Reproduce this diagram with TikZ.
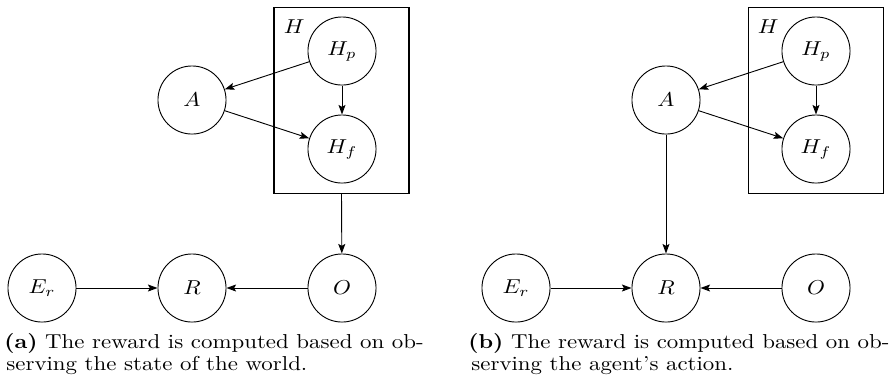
\documentclass[tikz,border=0pt]{standalone}
\usepackage{graphicx}
\usetikzlibrary{arrows.meta}
\newcommand{\nodetxt}[1]{\scalebox{1.24}[1.1]{#1}}
\newcommand{\captxt}[1]{\scalebox{1.25}[1.1]{#1}}
\begin{document}
\begin{tikzpicture}[x=0.5464pt,y=-0.5464pt,
  var/.style={draw,circle,minimum size=37.2pt,inner sep=0pt,line width=0.5pt},
  hbox/.style={draw,line width=0.55pt},
  arr/.style={-{Stealth[length=5.2pt,width=3.8pt,inset=1pt]},line width=0.5pt},
  captext/.style={anchor=base west,inner sep=0pt}]
\useasboundingbox (0,0) rectangle (889,382);
% ---- panel (a)
\node[var] (aEr) at (42,288) {\nodetxt{$E_r$}};
\node[var] (aR) at (192,288) {\nodetxt{$R$}};
\node[var] (aO) at (342,288) {\nodetxt{$O$}};
\node[var] (aA) at (192,100) {\nodetxt{$A$}};
\node[var] (aHp) at (342,51) {\nodetxt{$H_p$}};
\node[var] (aHf) at (342,149) {\nodetxt{$H_f$}};
\node[hbox,minimum width=135*0.5464pt,minimum height=186*0.5464pt,inner sep=0pt] (aH) at (341.5,100) {};
\node[anchor=base west,inner sep=0pt] (aHl) at (283.5,33) {\nodetxt{$H$}};
\draw[arr] (aHp) -- (aA);
\draw[arr] (aHp) -- (aHf);
\draw[arr] (aA) -- (aHf);
\draw[arr] (aH.south) -- (aO);
\draw[arr] (aEr) -- (aR);
\draw[arr] (aO) -- (aR);
\node[captext] (acap1) at (4,348) {\captxt{\textbf{(a)} The reward is computed based on ob-}};
\node[captext] (acap2) at (6,370) {\captxt{serving the state of the world.}};
% ---- panel (b)
\node[var] (bEr) at (516,288) {\nodetxt{$E_r$}};
\node[var] (bR) at (666,288) {\nodetxt{$R$}};
\node[var] (bO) at (816,288) {\nodetxt{$O$}};
\node[var] (bA) at (666,100) {\nodetxt{$A$}};
\node[var] (bHp) at (816,51) {\nodetxt{$H_p$}};
\node[var] (bHf) at (816,149) {\nodetxt{$H_f$}};
\node[hbox,minimum width=135*0.5464pt,minimum height=186*0.5464pt,inner sep=0pt] (bH) at (815.5,100) {};
\node[anchor=base west,inner sep=0pt] (bHl) at (757.5,33) {\nodetxt{$H$}};
\draw[arr] (bHp) -- (bA);
\draw[arr] (bHp) -- (bHf);
\draw[arr] (bA) -- (bHf);
\draw[arr] (bA) -- (bR);
\draw[arr] (bEr) -- (bR);
\draw[arr] (bO) -- (bR);
\node[captext] (bcap1) at (468,348) {\captxt{\textbf{(b)} The reward is computed based on ob-}};
\node[captext] (bcap2) at (471,370) {\captxt{serving the agent's action.}};
\end{tikzpicture}
\end{document}
